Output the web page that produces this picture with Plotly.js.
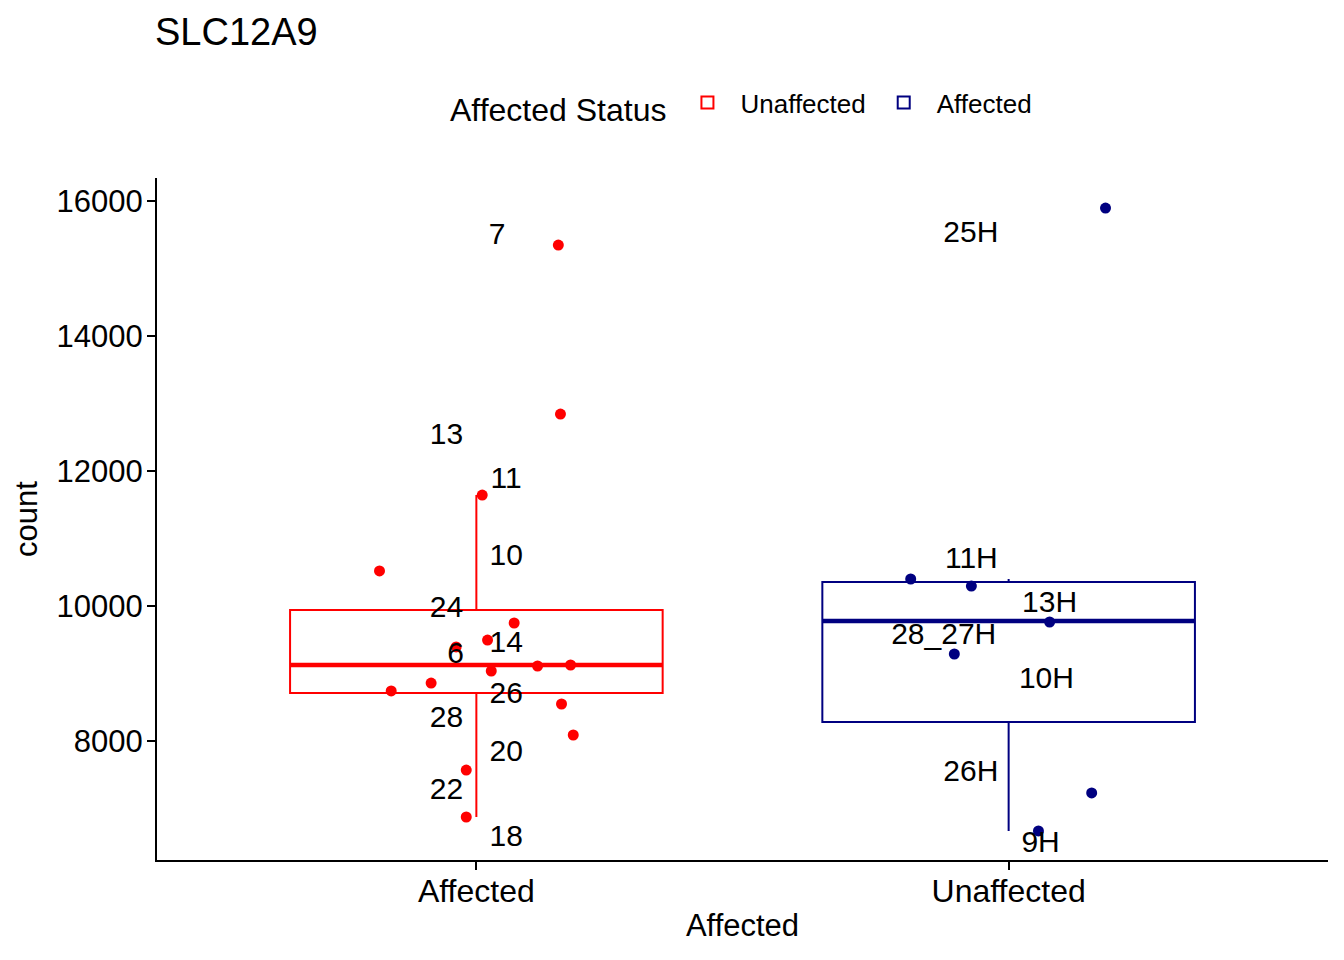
<!DOCTYPE html>
<html>
<head>
<meta charset="utf-8">
<script src="https://cdn.plot.ly/plotly-3.0.1.min.js"></script>
<style>html,body{margin:0;padding:0;background:#fff;}#chart{width:1344px;height:960px;}</style>
</head>
<body>
<div id="chart"></div>
<script>
// ---- data ----
const categories = ['Affected', 'Unaffected'];
const legendNames = ['Unaffected', 'Affected'];
const boxColors = ['#FF0000', '#000080'];

const q1Values = [8711, 8281];
const medianValues = [9126, 9778];
const q3Values = [9941, 10356];
const lowerWhiskers = [6874, 6667];
const upperWhiskers = [11644, 10400];

// jittered points: offset from category centre, count value
const affectedJitter = [0.154, 0.158, 0.011, -0.182, 0.071, -0.038, 0.021, 0.028, 0.115, 0.177, -0.160, -0.085, 0.160, 0.182, -0.019, -0.019];
const affectedCounts = [15348, 12844, 11644, 10519, 9748, 9393, 9496, 9037, 9111, 9126, 8741, 8859, 8548, 8089, 7570, 6874];
const unaffectedJitter = [0.182, -0.184, -0.070, 0.077, -0.102, 0.156, 0.056];
const unaffectedCounts = [15896, 10400, 10296, 9763, 9289, 7230, 6667];

// sample labels (jittered separately)
const affectedLabels = ['7', '13', '11', '10', '24', '6', '14', '26', '28', '20', '22', '18'];
const affectedLabelJitter = [0.039, -0.056, 0.056, 0.056, -0.056, -0.039, 0.056, 0.056, -0.056, 0.056, -0.056, 0.056];
const affectedLabelY = [15470, 12505, 11855, 10715, 9945, 9262, 9425, 8670, 8315, 7810, 7248, 6552];
const unaffectedLabels = ['25H', '11H', '13H', '28_27H', '10H', '26H', '9H'];
const unaffectedLabelJitter = [-0.071, -0.070, 0.077, -0.122, 0.071, -0.071, 0.060];
const unaffectedLabelY = [15500, 10670, 10018, 9545, 8892, 7515, 6463];

const yTicks = [8000, 10000, 12000, 14000, 16000];

// ---- build traces ----
const FONT = 'Liberation Sans, Arial, Helvetica, sans-serif';
const boxWidth = 0.7;
const traces = [];

categories.forEach((cat, i) => {
  traces.push({
    type: 'box',
    name: legendNames[i],
    x: [i],
    q1: [q1Values[i]],
    median: [medianValues[i]],
    q3: [q3Values[i]],
    lowerfence: [lowerWhiskers[i]],
    upperfence: [upperWhiskers[i]],
    width: boxWidth,
    whiskerwidth: 0,
    boxpoints: false,
    line: {color: boxColors[i], width: 2},
    fillcolor: 'rgba(255,255,255,0)',
    hoverinfo: 'skip',
    legendgroup: 'g' + i,
    showlegend: true
  });
  // thicker median line as in ggplot
  traces.push({
    type: 'scatter', mode: 'lines',
    x: [i - boxWidth / 2, i + boxWidth / 2],
    y: [medianValues[i], medianValues[i]],
    line: {color: boxColors[i], width: 4.5},
    hoverinfo: 'skip', showlegend: false
  });
});

const pointSets = [
  {jit: affectedJitter, vals: affectedCounts},
  {jit: unaffectedJitter, vals: unaffectedCounts}
];
pointSets.forEach((p, i) => {
  traces.push({
    type: 'scatter', mode: 'markers',
    x: p.jit.map(d => i + d),
    y: p.vals,
    marker: {color: boxColors[i], size: 11},
    hoverinfo: 'skip', showlegend: false
  });
});

const labelSets = [
  {t: affectedLabels, jit: affectedLabelJitter, y: affectedLabelY},
  {t: unaffectedLabels, jit: unaffectedLabelJitter, y: unaffectedLabelY}
];
labelSets.forEach((l, i) => {
  traces.push({
    type: 'scatter', mode: 'text',
    x: l.jit.map(d => i + d),
    y: l.y,
    text: l.t,
    textposition: 'middle center',
    textfont: {family: FONT, size: 30, color: '#000000'},
    hoverinfo: 'skip', showlegend: false
  });
});

const layout = {
  width: 1344, height: 960, autosize: false,
  paper_bgcolor: '#ffffff', plot_bgcolor: '#ffffff',
  margin: {l: 157, r: 16, t: 178, b: 100, pad: 0},
  font: {family: FONT, color: '#000000', size: 30},
  title: {
    text: 'SLC12A9', x: 155 / 1344, xanchor: 'left', xref: 'container',
    y: 1 - 32 / 960, yanchor: 'middle', yref: 'container',
    font: {family: FONT, size: 38, color: '#000000'}
  },
  xaxis: {
    range: [-0.6, 1.6],
    tickmode: 'array', tickvals: [0, 1], ticktext: categories,
    showline: true, linecolor: '#000000', linewidth: 2,
    ticks: 'outside', ticklen: 8, tickwidth: 2, tickcolor: '#000000',
    ticklabelstandoff: -6,
    showgrid: false, zeroline: false,
    tickfont: {family: FONT, size: 32, color: '#000000'},
    title: {text: 'Affected', font: {family: FONT, size: 31, color: '#000000'}, standoff: 6}
  },
  yaxis: {
    range: [6237, 16341],
    tickmode: 'array', tickvals: yTicks, ticktext: yTicks.map(String),
    showline: true, linecolor: '#000000', linewidth: 2,
    ticks: 'outside', ticklen: 8, tickwidth: 2, tickcolor: '#000000',
    ticklabelstandoff: -2,
    showgrid: false, zeroline: false,
    tickfont: {family: FONT, size: 31, color: '#000000'},
    title: {text: 'count', font: {family: FONT, size: 31, color: '#000000'}, standoff: 10}
  },
  showlegend: true,
  legend: {
    orientation: 'h', x: 0.5, xanchor: 'center', y: 1.107, yanchor: 'middle',
    title: {text: 'Affected Status', side: 'left', font: {family: FONT, size: 32, color: '#000000'}},
    font: {family: FONT, size: 26, color: '#000000'},
    bgcolor: 'rgba(0,0,0,0)', itemwidth: 56
  }
};

Plotly.newPlot('chart', traces, layout, {displayModeBar: false, staticPlot: true});
</script>
</body>
</html>
